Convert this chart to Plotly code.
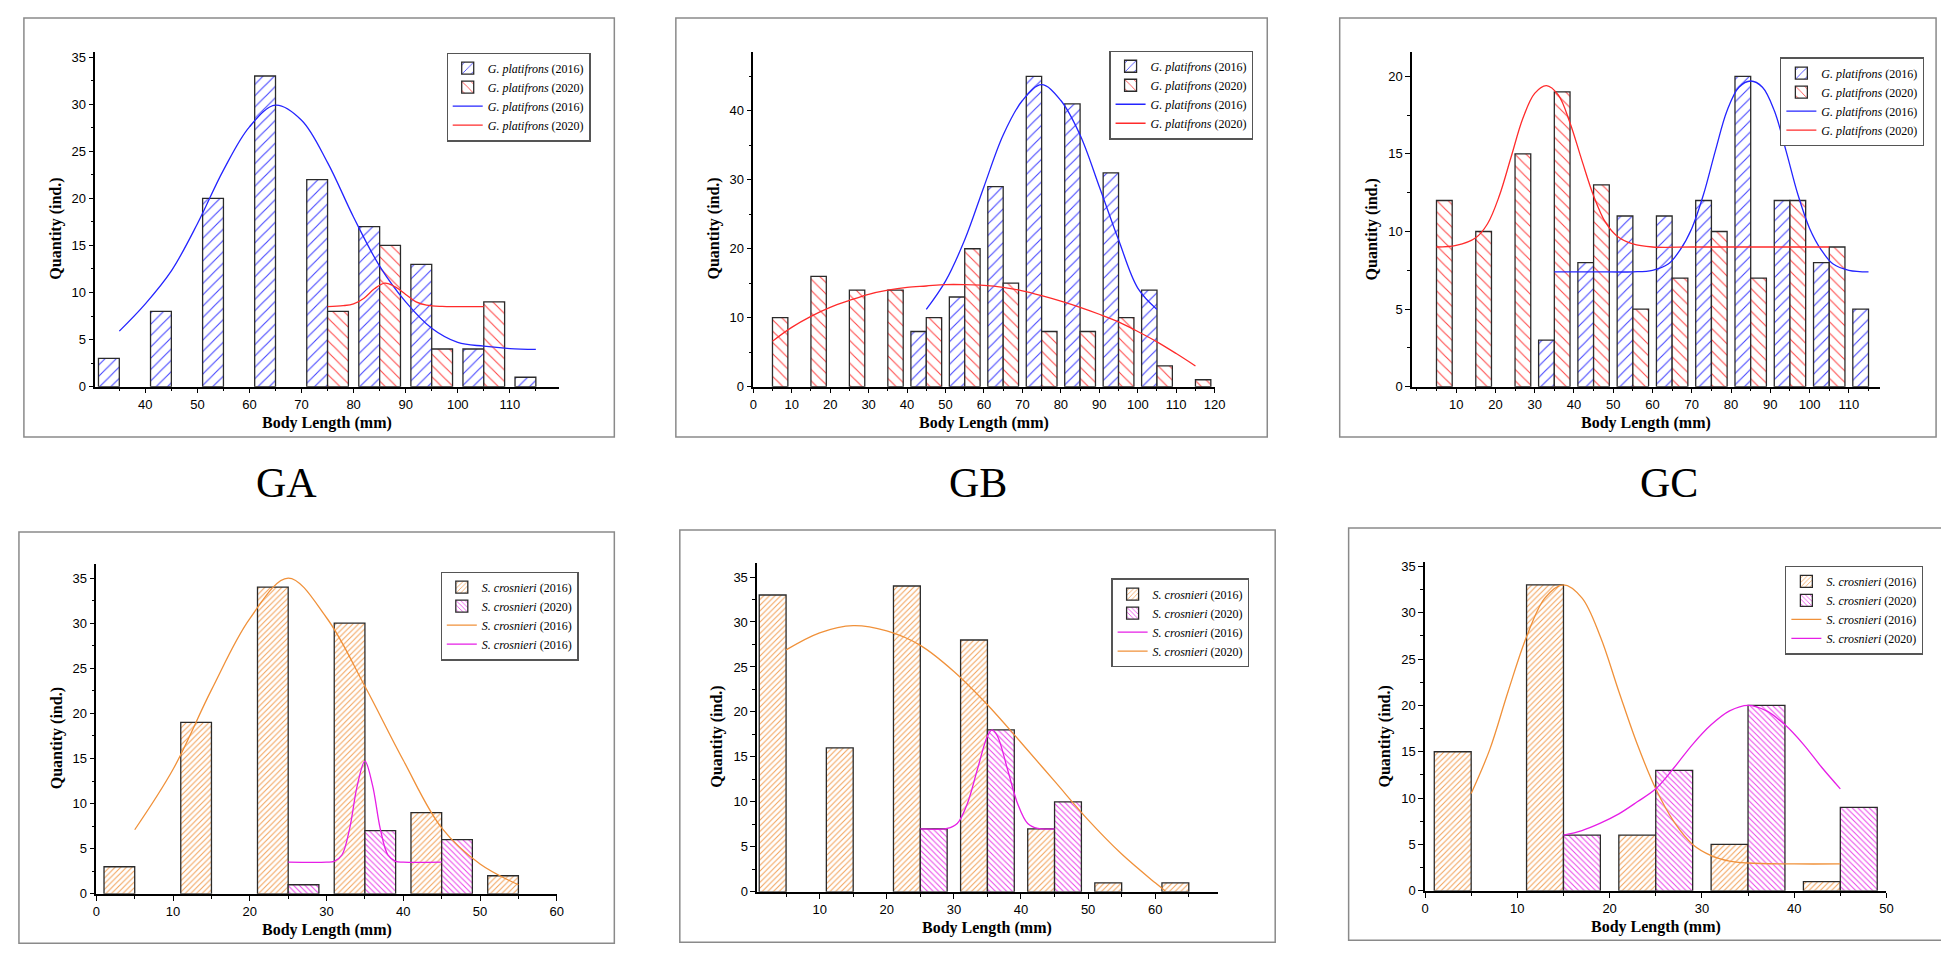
import plotly.graph_objects as go
from plotly.subplots import make_subplots

W, H = 1949, 963

# ---------------- data ----------------
# GA (top) - G. platifrons
ga_top_x16 = [33, 43, 53, 63, 73, 83, 93, 103, 113]
ga_top_y16 = [3, 8, 20, 33, 22, 17, 13, 4, 1]
ga_top_x20 = [77, 87, 97, 107]
ga_top_y20 = [8, 15, 4, 9]
ga_top_fit16_x = [35, 40, 45, 50, 55, 60, 65, 70, 75, 80, 85, 90, 95, 100, 105, 110, 115]
ga_top_fit16_y = [5.9, 8.8, 12.3, 17.3, 23.0, 27.6, 29.9, 28.3, 23.8, 18.0, 12.8, 9.0, 6.2, 4.7, 4.3, 4.05, 3.95]
ga_top_fit20_x = [75, 78, 80, 82, 84, 86, 88, 90, 92, 94, 97, 100, 105]
ga_top_fit20_y = [8.5, 8.6, 8.8, 9.4, 10.4, 11.0, 10.6, 9.8, 9.0, 8.65, 8.52, 8.5, 8.5]

# GB (top)
gb_top_x16 = [43, 53, 63, 73, 83, 93, 103]
gb_top_y16 = [8, 13, 29, 45, 41, 31, 14]
gb_top_x20 = [7, 17, 27, 37, 47, 57, 67, 77, 87, 97, 107, 117]
gb_top_y20 = [10, 16, 14, 14, 10, 20, 15, 8, 8, 10, 3, 1]
gb_top_fit16_x = [45, 50, 55, 60, 65, 70, 75, 80, 85, 90, 95, 100, 105]
gb_top_fit16_y = [11.2, 15.3, 21.3, 29.0, 36.5, 41.5, 43.8, 41.5, 36.5, 29.0, 21.3, 14.3, 11.2]
gb_top_fit20_x = [5, 10, 15, 20, 25, 30, 35, 40, 45, 50, 55, 60, 65, 70, 75, 80, 85, 90, 95, 100, 105, 110, 115]
gb_top_fit20_y = [6.6, 8.6, 10.2, 11.5, 12.5, 13.4, 14.0, 14.4, 14.6, 14.8, 14.8, 14.7, 14.4,
                  13.9, 13.2, 12.4, 11.5, 10.5, 9.4, 8.0, 6.5, 4.8, 3.0]

# GC (top)
gc_top_x16 = [33, 43, 53, 63, 73, 83, 93, 103, 113]
gc_top_y16 = [3, 8, 11, 11, 12, 20, 12, 8, 5]
gc_top_x20 = [7, 17, 27, 37, 47, 57, 67, 77, 87, 97, 107]
gc_top_y20 = [12, 10, 15, 19, 13, 5, 7, 10, 7, 12, 9]
gc_top_fit16_x = [35, 45, 55, 60, 64, 67, 70, 73, 76, 79, 82, 85, 88, 91, 94, 97, 100, 103, 106, 110, 115]
gc_top_fit16_y = [7.4, 7.4, 7.4, 7.5, 7.9, 8.8, 10.2, 12.4, 15.2, 17.8, 19.3, 19.7, 19.3, 17.8, 15.2,
                  12.4, 10.2, 8.8, 7.9, 7.5, 7.4]
gc_top_fit20_x = [5, 10, 15, 18, 21, 24, 27, 30, 33, 36, 39, 42, 45, 48, 51, 55, 60, 70, 80, 90, 100, 105]
gc_top_fit20_y = [9.0, 9.1, 9.6, 10.5, 12.3, 14.8, 17.3, 18.9, 19.4, 18.8, 17.0, 14.6, 12.3, 10.6, 9.7,
                  9.2, 9.0, 9.0, 9.0, 9.0, 9.0, 9.0]

# GA (bottom) - S. crosnieri
ga_bot_x16 = [3, 13, 23, 33, 43, 53]
ga_bot_y16 = [3, 19, 34, 30, 9, 2]
ga_bot_x20 = [27, 37, 47]
ga_bot_y20 = [1, 7, 6]
ga_bot_fit16_x = [5, 10, 15, 20, 25, 30, 35, 40, 45, 50, 55]
ga_bot_fit16_y = [7.1, 13.8, 22.6, 30.5, 35.0, 30.6, 23.0, 14.8, 7.3, 3.3, 1.0]
ga_bot_fit20_x = [25, 30, 31, 32, 33, 34, 35, 36, 37, 38, 39, 40, 45]
ga_bot_fit20_y = [3.5, 3.5, 3.6, 4.3, 7.2, 12.0, 14.7, 12.0, 7.2, 4.3, 3.6, 3.5, 3.5]

# GB (bottom)
gb_bot_x16 = [3, 13, 23, 33, 43, 53, 63]
gb_bot_y16 = [33, 16, 34, 28, 7, 1, 1]
gb_bot_x20 = [27, 37, 47]
gb_bot_y20 = [7, 18, 10]
gb_bot_fitm_x = [25, 29, 30.5, 32, 33.5, 35, 35.7, 36.5, 38, 39.5, 41, 42.5, 45]
gb_bot_fitm_y = [7.0, 7.05, 7.6, 9.8, 13.6, 17.3, 18.0, 17.3, 13.6, 9.8, 7.6, 7.05, 7.0]
gb_bot_fito_x = [5, 10, 15, 20, 25, 30, 35, 40, 45, 50, 55, 60, 61.5]
gb_bot_fito_y = [26.9, 28.8, 29.6, 29.0, 27.4, 24.5, 20.8, 16.6, 12.3, 8.0, 4.2, 1.0, 0.1]

# GC (bottom)
gc_bot_x16 = [3, 13, 23, 33, 43]
gc_bot_y16 = [15, 33, 6, 5, 1]
gc_bot_x20 = [17, 27, 37, 47]
gc_bot_y20 = [6, 13, 20, 9]
gc_bot_fit16_x = [5, 7, 9, 11, 13, 15, 17, 19, 21, 23, 25, 27, 29, 31, 33, 35, 40, 45]
gc_bot_fit16_y = [10.5, 15.2, 21.5, 27.4, 31.6, 33.0, 31.6, 27.4, 21.5, 15.8, 11.0, 7.4, 5.0, 3.8,
                  3.2, 3.0, 2.9, 2.9]
gc_bot_fit20_x = [15, 17, 19, 21, 23, 25, 27, 29, 31, 33, 35, 37, 39, 41, 43, 45]
gc_bot_fit20_y = [6.0, 6.5, 7.3, 8.3, 9.6, 11.0, 13.3, 15.8, 17.9, 19.4, 20.0, 19.4, 17.9, 15.8, 13.3, 11.0]

G16 = "<i>G. platifrons</i> (2016)"
G20 = "<i>G. platifrons</i> (2020)"
S16 = "<i>S. crosnieri</i> (2016)"
S20 = "<i>S. crosnieri</i> (2020)"

BLUE = "#2424ff"
RED = "#ff2b2b"
ORANGE = "#f0913a"
MAGENTA = "#e61ee6"
SERIF = "Liberation Serif"
SANS = "Liberation Sans"


def bar(x, y, name, color, shape, size, solidity, legend):
    return go.Bar(
        x=x, y=y, width=4, name=name, legend=legend,
        marker=dict(
            color="white",
            line=dict(color="#2a2a2a", width=1.3),
            pattern=dict(shape=shape, fgcolor=color, bgcolor="white",
                         size=size, solidity=solidity, fgopacity=0.85),
        ),
    )


def curve(x, y, name, color, legend):
    return go.Scatter(x=x, y=y, mode="lines", name=name, legend=legend,
                      line=dict(color=color, width=1.3, shape="spline"))


fig = make_subplots(rows=2, cols=3)

# top row
fig.add_trace(bar(ga_top_x16, ga_top_y16, G16, BLUE, "/", 8, 0.14, "legend"), 1, 1)
fig.add_trace(bar(ga_top_x20, ga_top_y20, G20, RED, "\\", 8, 0.14, "legend"), 1, 1)
fig.add_trace(curve(ga_top_fit16_x, ga_top_fit16_y, G16, BLUE, "legend"), 1, 1)
fig.add_trace(curve(ga_top_fit20_x, ga_top_fit20_y, G20, RED, "legend"), 1, 1)

fig.add_trace(bar(gb_top_x16, gb_top_y16, G16, BLUE, "/", 8, 0.14, "legend2"), 1, 2)
fig.add_trace(bar(gb_top_x20, gb_top_y20, G20, RED, "\\", 8, 0.14, "legend2"), 1, 2)
fig.add_trace(curve(gb_top_fit16_x, gb_top_fit16_y, G16, BLUE, "legend2"), 1, 2)
fig.add_trace(curve(gb_top_fit20_x, gb_top_fit20_y, G20, RED, "legend2"), 1, 2)

fig.add_trace(bar(gc_top_x16, gc_top_y16, G16, BLUE, "/", 8, 0.14, "legend3"), 1, 3)
fig.add_trace(bar(gc_top_x20, gc_top_y20, G20, RED, "\\", 8, 0.14, "legend3"), 1, 3)
fig.add_trace(curve(gc_top_fit16_x, gc_top_fit16_y, G16, BLUE, "legend3"), 1, 3)
fig.add_trace(curve(gc_top_fit20_x, gc_top_fit20_y, G20, RED, "legend3"), 1, 3)

# bottom row
fig.add_trace(bar(ga_bot_x16, ga_bot_y16, S16, ORANGE, "/", 4, 0.25, "legend4"), 2, 1)
fig.add_trace(bar(ga_bot_x20, ga_bot_y20, S20, MAGENTA, "\\", 4, 0.25, "legend4"), 2, 1)
fig.add_trace(curve(ga_bot_fit16_x, ga_bot_fit16_y, S16, ORANGE, "legend4"), 2, 1)
fig.add_trace(curve(ga_bot_fit20_x, ga_bot_fit20_y, S16, MAGENTA, "legend4"), 2, 1)

fig.add_trace(bar(gb_bot_x16, gb_bot_y16, S16, ORANGE, "/", 4, 0.25, "legend5"), 2, 2)
fig.add_trace(bar(gb_bot_x20, gb_bot_y20, S20, MAGENTA, "\\", 4, 0.25, "legend5"), 2, 2)
fig.add_trace(curve(gb_bot_fitm_x, gb_bot_fitm_y, S16, MAGENTA, "legend5"), 2, 2)
fig.add_trace(curve(gb_bot_fito_x, gb_bot_fito_y, S20, ORANGE, "legend5"), 2, 2)

fig.add_trace(bar(gc_bot_x16, gc_bot_y16, S16, ORANGE, "/", 4, 0.25, "legend6"), 2, 3)
fig.add_trace(bar(gc_bot_x20, gc_bot_y20, S20, MAGENTA, "\\", 4, 0.25, "legend6"), 2, 3)
fig.add_trace(curve(gc_bot_fit16_x, gc_bot_fit16_y, S16, ORANGE, "legend6"), 2, 3)
fig.add_trace(curve(gc_bot_fit20_x, gc_bot_fit20_y, S20, MAGENTA, "legend6"), 2, 3)


# panel geometry in pixels: plot area (left, right, top, bottom), outer box, axis ranges
panels = [
    dict(r=1, c=1, plot=(84, 551, 41, 380), box=(12, 607, 7, 431),
         xr=[30.4, 119.4], yr=[0, 35.6], xdt=10, ydt=5, xt=[40, 50, 60, 70, 80, 90, 100, 110]),
    dict(r=1, c=2, plot=(747, 1212, 41, 380), box=(669, 1265, 7, 431),
         xr=[0, 120], yr=[0, 48.6], xdt=10, ydt=10, xt=list(range(0, 121, 10))),
    dict(r=1, c=3, plot=(1411, 1882, 41, 380), box=(1338, 1939, 7, 431),
         xr=[-1.2, 117.8], yr=[0, 21.6], xdt=10, ydt=5, xt=list(range(10, 111, 10))),
    dict(r=2, c=1, plot=(85, 549, 559, 893), box=(7, 607, 527, 943),
         xr=[0, 60], yr=[0, 36.6], xdt=10, ydt=5, xt=list(range(0, 61, 10))),
    dict(r=2, c=2, plot=(751, 1215, 558, 891), box=(673, 1273, 525, 942),
         xr=[0.7, 69.3], yr=[0, 36.6], xdt=10, ydt=5, xt=list(range(10, 61, 10))),
    dict(r=2, c=3, plot=(1424, 1889, 557, 890), box=(1347, 1946, 523, 940),
         xr=[0, 50], yr=[0, 35.5], xdt=10, ydt=5, xt=list(range(0, 51, 10))),
]

axis_common = dict(showgrid=False, zeroline=False, showline=True, linecolor="black", linewidth=1.5,
                   ticks="outside", ticklen=5, tickwidth=1.2, tickcolor="black",
                   tickfont=dict(family=SANS, size=13, color="black"))

shapes = []
annotations = []
for p in panels:
    l, rgt, t, b = p["plot"]
    fig.update_xaxes(domain=[l / W, rgt / W], range=p["xr"], tickvals=p["xt"],
                     minor=dict(ticks="outside", ticklen=3, dtick=p["xdt"] / 2, tick0=0,
                                tickcolor="black"),
                     row=p["r"], col=p["c"], **axis_common)
    fig.update_yaxes(domain=[1 - b / H, 1 - t / H], range=p["yr"], dtick=p["ydt"], tick0=0,
                     minor=dict(ticks="outside", ticklen=3, dtick=p["ydt"] / 2, tick0=0,
                                tickcolor="black"),
                     row=p["r"], col=p["c"], **axis_common)
    bl, br, bt, bb = p["box"]
    shapes.append(dict(type="rect", xref="paper", yref="paper", x0=bl / W, x1=br / W,
                       y0=1 - bb / H, y1=1 - bt / H, line=dict(color="#8a8a8a", width=1.5)))
    annotations.append(dict(text="<b>Body Length (mm)</b>", xref="paper", yref="paper",
                            x=(l + rgt) / 2 / W, y=1 - (b + 37) / H, showarrow=False,
                            xanchor="center", yanchor="middle",
                            font=dict(family=SERIF, size=16, color="black")))
    annotations.append(dict(text="<b>Quantity (ind.)</b>", xref="paper", yref="paper",
                            x=(l - 40) / W, y=1 - ((t + b) / 2 + 10) / H, showarrow=False,
                            xanchor="center", yanchor="middle",
                            textangle=-90, font=dict(family=SERIF, size=16, color="black")))

for label, cx in [("GA", 277), ("GB", 973), ("GC", 1670)]:
    annotations.append(dict(text=label, xref="paper", yref="paper", x=cx / W, y=1 - 477 / H,
                            showarrow=False, xanchor="center", yanchor="middle",
                            font=dict(family=SERIF, size=42, color="black")))

legend_style = dict(xanchor="right", yanchor="top", bgcolor="white", bordercolor="#555555",
                    borderwidth=1.2, itemwidth=30, tracegroupgap=0,
                    font=dict(family=SERIF, size=12, color="black"))
legend_pos = [(583, 42), (1251, 40), (1927, 47), (571, 567), (1247, 574), (1926, 561)]
legends = {}
for i, (lx, ly) in enumerate(legend_pos):
    key = "legend" if i == 0 else "legend%d" % (i + 1)
    legends[key] = dict(x=lx / W, y=1 - ly / H, **legend_style)

fig.update_layout(
    width=W, height=H,
    margin=dict(l=0, r=0, t=0, b=0),
    plot_bgcolor="white", paper_bgcolor="white",
    barmode="overlay",
    shapes=shapes,
    annotations=annotations,
    **legends,
)

fig.write_html("out.html")
